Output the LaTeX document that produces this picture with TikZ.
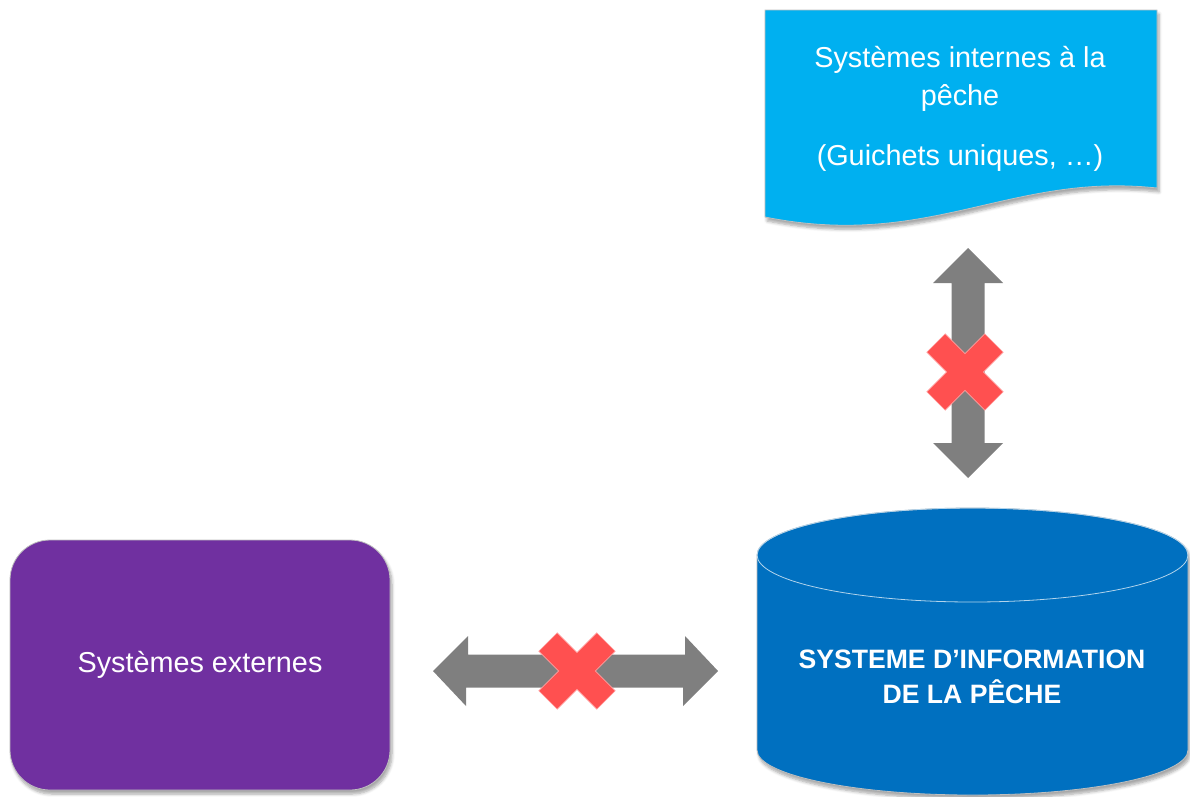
\documentclass[tikz,border=0pt]{standalone}
\usepackage{fontspec}
\setmainfont{Liberation Sans}
\usetikzlibrary{shadows.blur}
\definecolor{docblue}{HTML}{00B0F0}
\definecolor{dbblue}{HTML}{0070C0}
\definecolor{extpurple}{HTML}{7030A0}
\definecolor{arrgray}{HTML}{7F7F7F}
\definecolor{xred}{HTML}{FF5050}
\tikzset{
  shade/.style={blur shadow={shadow blur steps=6, shadow xshift=2pt, shadow yshift=-4pt, shadow opacity=35, shadow blur radius=3pt}},
  edge/.style={draw=white!75!black, line width=0.8pt},
  label/.style={text=white, font=\fontsize{28.8}{38}\selectfont, align=center},
  boldlabel/.style={text=white, font=\fontsize{26.6}{35}\selectfont\bfseries, align=center},
  blockarrow/.style={fill=arrgray},
  crossmark/.style={fill=xred, draw=xred!55!white, line width=0.6pt, line join=miter}
}
\begin{document}
\begin{tikzpicture}[x=1pt,y=-1pt]
\useasboundingbox (0,0) rectangle (1190,796);
% document shape (top)
\path[fill=docblue, edge, shade] (765,10) -- (1157,10) -- (1157,188)
  .. controls (1010,172) and (930,250) .. (765,217) -- cycle;
\node[label] (int) at (960,79) {Systèmes internes à la\\pêche};
\node[label] (intb) at (960,158) {(Guichets uniques, …)};
% purple rounded rectangle
\node[fill=extpurple, edge, shade, rounded corners=40pt, minimum width=380pt, minimum height=250pt, label] (ext) at (200,665) {Systèmes externes};
% cylinder
\path[fill=dbblue, edge, shade] (757,555) -- (757,750)
  arc[start angle=180, end angle=0, x radius=215.5, y radius=45]
  -- (1188,555)
  arc[start angle=0, end angle=-180, x radius=215.5, y radius=47] -- cycle;
\draw[white!70!dbblue, line width=0.8pt] (972.5,555) ellipse [x radius=215.5, y radius=47];
\node[boldlabel] (sip) at (972,677) {SYSTEME D’INFORMATION\\DE LA PÊCHE};
% vertical double arrow
\coordinate (vtop) at (968,248);
\coordinate (vbot) at (968,478);
\fill[blockarrow] (vtop) -- ++(35,35) -- ++(-18.5,0) -- ++(0,160) -- ++(18.5,0)
  -- (vbot) -- ++(-35,-35) -- ++(18.5,0) -- ++(0,-160) -- ++(-18.5,0) -- cycle;
% horizontal double arrow
\coordinate (hl) at (433,671);
\coordinate (hr) at (718,671);
\fill[blockarrow] (hl) -- ++(35,-35) -- ++(0,18.5) -- ++(217,0) -- ++(0,-18.5)
  -- (hr) -- ++(-35,35) -- ++(0,-18.5) -- ++(-217,0) -- ++(0,18.5) -- cycle;
% red crosses
\foreach \cx/\cy in {965/372, 577/671}{
  \path[crossmark, shift={(\cx,\cy)}, rotate=45]
    (41,13) -- (13,13) -- (13,41) -- (-13,41) -- (-13,13) -- (-41,13)
    -- (-41,-13) -- (-13,-13) -- (-13,-41) -- (13,-41) -- (13,-13) -- (41,-13) -- cycle;
}
\end{tikzpicture}
\end{document}
